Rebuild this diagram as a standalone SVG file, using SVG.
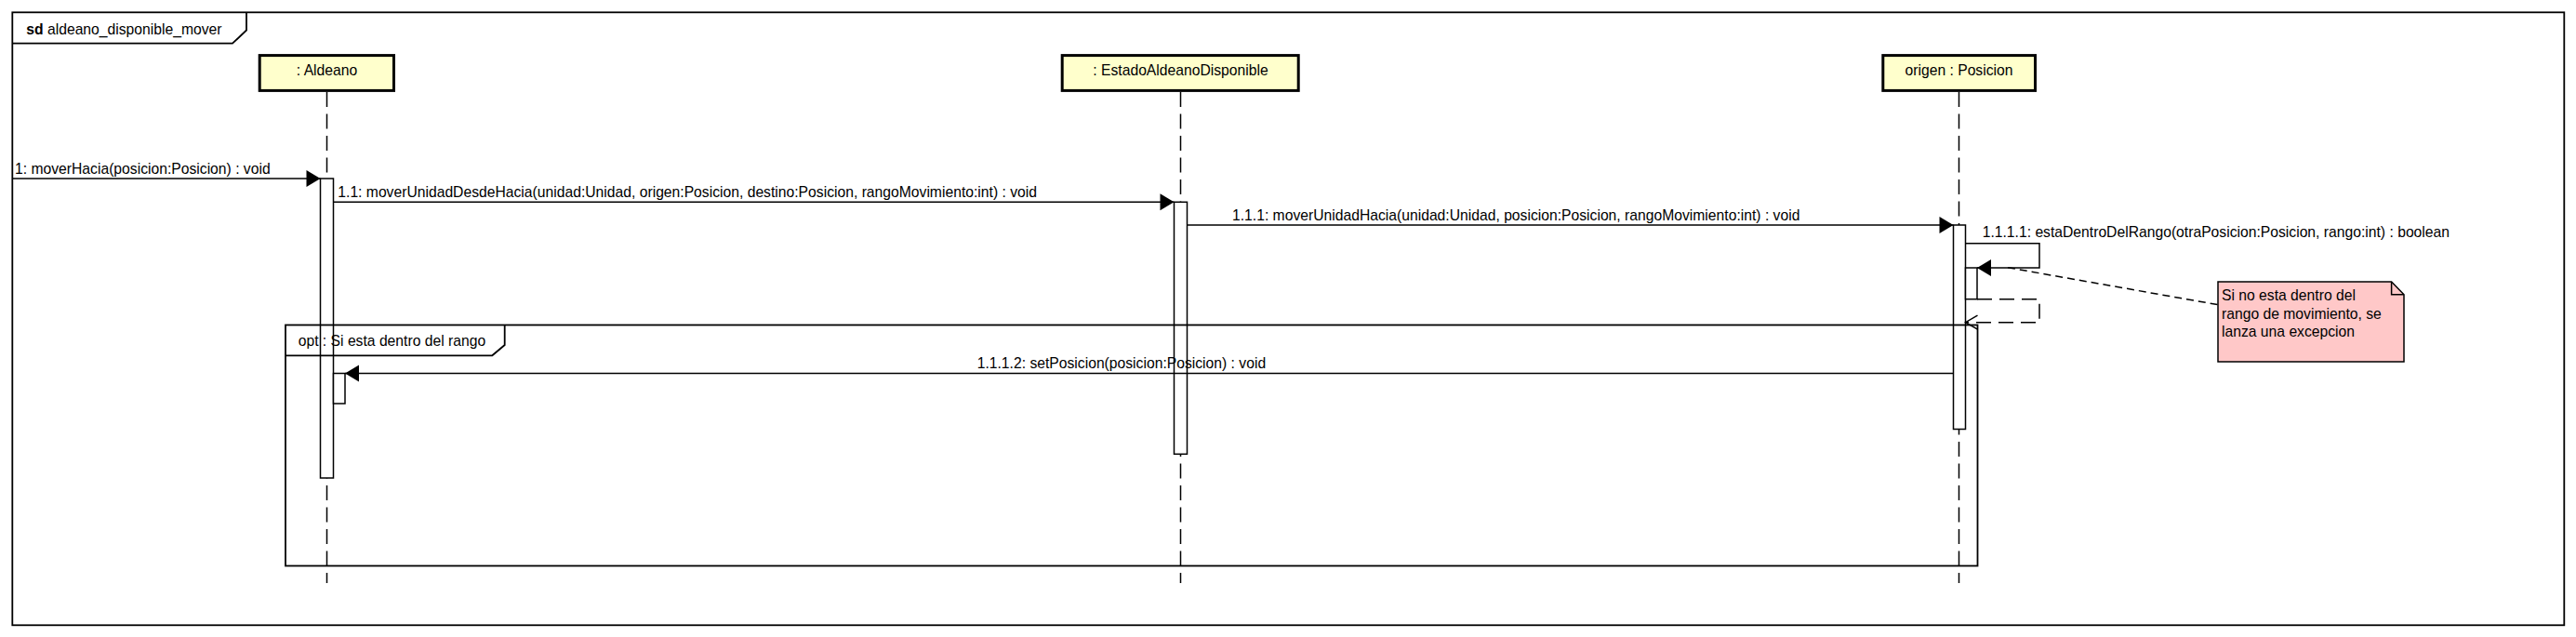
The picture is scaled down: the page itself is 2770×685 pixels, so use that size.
<svg xmlns="http://www.w3.org/2000/svg" width="2770" height="685" viewBox="0 0 2770 685">
<style>
text{font-family:"Liberation Sans",Arial,sans-serif;font-size:15.7px;fill:#000}
.frame{fill:none;stroke:#000;stroke-width:1.8}
.box{fill:#FFFFCC;stroke:#000;stroke-width:3}
.life{stroke:#000;stroke-width:1.5;stroke-dasharray:16 7.5;fill:none}
.act{fill:#fff;stroke:#000;stroke-width:1.5}
.msg{fill:none;stroke:#000;stroke-width:1.5}
.ret{fill:none;stroke:#000;stroke-width:1.5;stroke-dasharray:16 8}
.note{fill:#FFC8C8;stroke:#000;stroke-width:1.5}
.anchor{fill:none;stroke:#000;stroke-width:1.5;stroke-dasharray:8 5}
</style>
<defs>
<marker id="filled" markerUnits="userSpaceOnUse" markerWidth="16" markerHeight="19" refX="15" refY="9" orient="auto" overflow="visible">
<path d="M0,0 L15,9 L0,18 z" fill="#000" stroke="none"/>
</marker>
<marker id="open" markerUnits="userSpaceOnUse" markerWidth="15" markerHeight="17" refX="13" refY="7.5" orient="auto" overflow="visible">
<path d="M0,0 L13,7.5 L0,15" fill="none" stroke="#000" stroke-width="1.5" stroke-dasharray="none"/>
</marker>
</defs>

<g id="frame">
<rect class="frame" x="13.3" y="13.3" width="2744" height="659"/>
<path class="frame" d="M13.3,46.7 H250 L265,32.5 V13.3"/>
<text x="28.3" y="36.5"><tspan font-weight="bold">sd</tspan> aldeano_disponible_mover</text>
</g>

<g id="lifeline-aldeano">
<line class="life" x1="351.5" y1="99" x2="351.5" y2="627"/>
<rect class="box" x="279.2" y="59.6" width="144.3" height="37.8"/>
<text x="351.5" y="80.7" text-anchor="middle">: Aldeano</text>
</g>

<g id="lifeline-estado">
<line class="life" x1="1269.5" y1="99" x2="1269.5" y2="627"/>
<rect class="box" x="1142.2" y="59.6" width="254" height="37.8"/>
<text x="1269.5" y="80.7" text-anchor="middle">: EstadoAldeanoDisponible</text>
</g>

<g id="lifeline-posicion">
<line class="life" x1="2106.5" y1="99" x2="2106.5" y2="627"/>
<rect class="box" x="2024.8" y="59.6" width="163.7" height="37.8"/>
<text x="2106.5" y="80.7" text-anchor="middle">origen : Posicion</text>
</g>

<g id="activations">
<rect class="act" x="344.5" y="192" width="14" height="322"/>
<rect class="act" x="358.5" y="401.5" width="12.5" height="32.5"/>
<rect class="act" x="1262.5" y="217.3" width="14" height="271"/>
<rect class="act" x="2100.5" y="242" width="13" height="219.5"/>
<rect class="act" x="2113.5" y="288" width="12.5" height="33.7"/>
</g>

<g id="opt-fragment">
<rect class="frame" x="307" y="349.5" width="1819.5" height="259"/>
<path class="frame" d="M307,382.3 H529.3 L542.7,371 V349.5"/>
<text x="320.7" y="371.7">opt : Si esta dentro del rango</text>
</g>

<g id="connectors">
<line class="msg" x1="13.3" y1="192" x2="344.5" y2="192" marker-end="url(#filled)"/>
<text x="16" y="187">1: moverHacia(posicion:Posicion) : void</text>

<line class="msg" x1="358.5" y1="217.3" x2="1262.5" y2="217.3" marker-end="url(#filled)"/>
<text x="363.3" y="211.7">1.1: moverUnidadDesdeHacia(unidad:Unidad, origen:Posicion, destino:Posicion, rangoMovimiento:int) : void</text>

<line class="msg" x1="1276.5" y1="242" x2="2100.5" y2="242" marker-end="url(#filled)"/>
<text x="1325" y="237">1.1.1: moverUnidadHacia(unidad:Unidad, posicion:Posicion, rangoMovimiento:int) : void</text>

<path class="msg" d="M2113.5,261.7 H2193 V288 H2126" marker-end="url(#filled)"/>
<text x="2131.7" y="254.5">1.1.1.1: estaDentroDelRango(otraPosicion:Posicion, rango:int) : boolean</text>

<path class="ret" d="M2126,321.7 H2193 V346.7 H2113.5" marker-end="url(#open)"/>

<line class="msg" x1="2100.5" y1="401.5" x2="371" y2="401.5" marker-end="url(#filled)"/>
<text x="1050.7" y="395.7">1.1.1.2: setPosicion(posicion:Posicion) : void</text>

<line class="anchor" x1="2159" y1="287.7" x2="2385" y2="327.7"/>
</g>

<g id="note">
<path class="note" d="M2385,303 H2571.6 L2585,316.7 V389 H2385 Z"/>
<path class="msg" d="M2571.6,303 V316.7 H2585"/>
<text x="2389" y="323.3">Si no esta dentro del</text>
<text x="2389" y="342.7">rango de movimiento, se</text>
<text x="2389" y="362.3">lanza una excepcion</text>
</g>
</svg>
